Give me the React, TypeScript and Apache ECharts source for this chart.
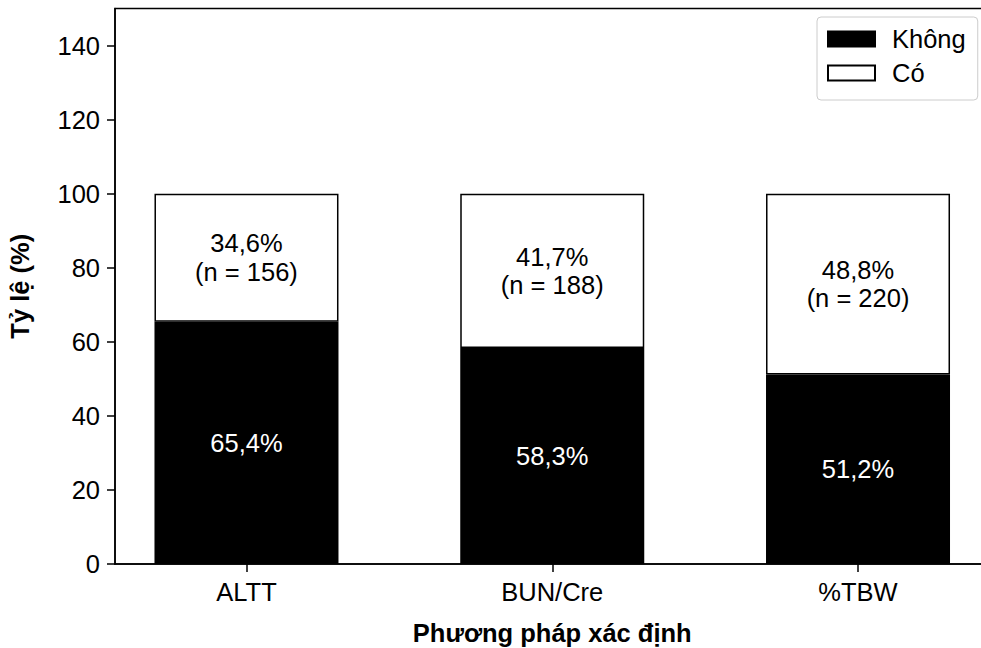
import React, { useEffect, useRef } from "react";
import * as echarts from "echarts";

const categories = ["ALTT", "BUN/Cre", "%TBW"];
const khongValues = [65.4, 58.3, 51.2];
const coValues = [34.6, 41.7, 48.8];
const coCounts = [156, 188, 220];
const yTicks = [0, 20, 40, 60, 80, 100, 120, 140];
const seriesNames = ["Không", "Có"];

const FONT = "'Liberation Sans', Arial, Helvetica, sans-serif";
const FS = 25.5;
const fmt = (v: number) => v.toFixed(1).replace(".", ",");

export default function App() {
  const ref = useRef<HTMLDivElement>(null);
  useEffect(() => {
    if (!ref.current) return;
    const chart = echarts.init(ref.current, null, { renderer: "svg" });
    chart.setOption({
      animation: false,
      textStyle: { fontFamily: FONT },
      grid: {
        left: 115,
        width: 874.5,
        top: 8.5,
        bottom: 84,
        outerBoundsMode: "none",
        containLabel: false,
        show: true,
        borderColor: "#000",
        borderWidth: 1.5,
        backgroundColor: "transparent",
      },
      legend: {
        orient: "vertical",
        left: 817,
        top: 17,
        data: seriesNames,
        icon: "rect",
        itemWidth: 47,
        itemHeight: 15,
        itemGap: 8,
        padding: [9, 12, 14, 10],
        borderColor: "#cccccc",
        borderWidth: 1,
        borderRadius: 4,
        backgroundColor: "#fff",
        textStyle: { fontSize: FS, color: "#000", fontFamily: FONT, padding: [3, 0, 0, 12] },
      },
      xAxis: {
        type: "value",
        min: -0.43,
        max: 2.43,
        name: "Phương pháp xác định",
        nameLocation: "middle",
        nameGap: 56,
        nameTextStyle: { fontSize: FS, fontWeight: "bold", color: "#000", fontFamily: FONT },
        axisLine: { show: true, onZero: false, lineStyle: { color: "#000", width: 1.5 } },
        axisTick: { show: true, length: 8, lineStyle: { color: "#000", width: 1.5 }, customValues: [0, 1, 2] },
        axisLabel: {
          fontSize: FS,
          color: "#000",
          margin: 15,
          customValues: [0, 1, 2],
          formatter: (v: number) => categories[Math.round(v)] ?? "",
        },
        splitLine: { show: false },
      },
      yAxis: {
        type: "value",
        min: 0,
        max: 150,
        interval: 20,
        name: "Tỷ lệ (%)",
        nameLocation: "middle",
        nameGap: 82,
        nameTextStyle: { fontSize: FS, fontWeight: "bold", color: "#000", fontFamily: FONT },
        axisLine: { show: true, onZero: false, lineStyle: { color: "#000", width: 1.5 } },
        axisTick: { show: true, length: 8, lineStyle: { color: "#000", width: 1.5 }, customValues: yTicks },
        axisLabel: { fontSize: FS, color: "#000", margin: 15, customValues: yTicks },
        splitLine: { show: false },
      },
      series: [
        {
          name: seriesNames[0],
          type: "bar",
          stack: "total",
          barWidth: 184,
          encode: { x: 1, y: 0 },
          data: khongValues.map((v, i) => [v, i]),
          itemStyle: { color: "#000", borderColor: "#000", borderWidth: 1.5 },
          label: {
            show: true,
            position: "inside",
            color: "#fff",
            fontSize: FS,
            fontFamily: FONT,
            formatter: (p: any) => fmt(khongValues[p.dataIndex]) + "%",
          },
        },
        {
          name: seriesNames[1],
          type: "bar",
          stack: "total",
          barWidth: 184,
          encode: { x: 1, y: 0 },
          data: coValues.map((v, i) => [v, i]),
          itemStyle: { color: "#fff", borderColor: "#000", borderWidth: 1.5 },
          label: {
            show: true,
            position: "inside",
            color: "#000",
            fontSize: FS,
            lineHeight: 28.5,
            fontFamily: FONT,
            formatter: (p: any) => fmt(coValues[p.dataIndex]) + "%\n(n = " + coCounts[p.dataIndex] + ")",
          },
        },
      ],
    });
    return () => chart.dispose();
  }, []);
  return <div ref={ref} style={{ width: 981, height: 648, position: "absolute", left: 0, top: 0 }} />;
}
